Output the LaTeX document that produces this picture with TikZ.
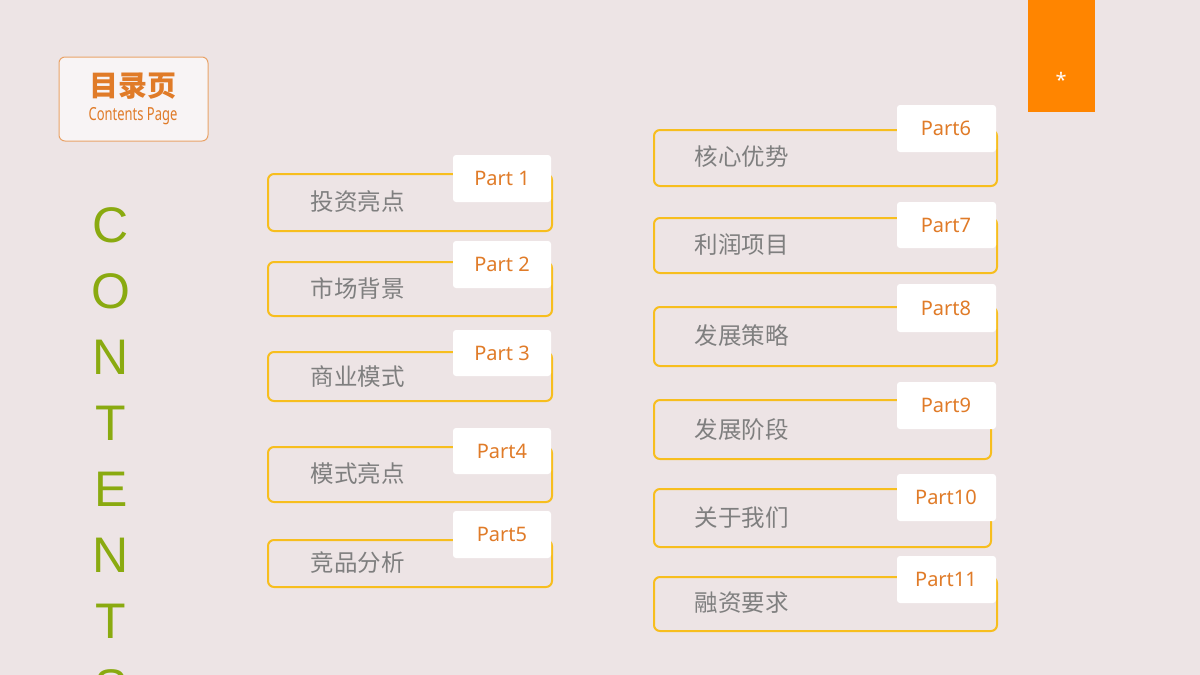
\documentclass[tikz,border=0pt]{standalone}
\usepackage{fontspec}
\setmainfont{Noto Sans}
\newfontfamily\cjk{Noto Sans CJK SC}
\newfontfamily\arl{Liberation Sans}
\definecolor{bg}{HTML}{EDE4E5}
\definecolor{yel}{HTML}{F7BE1E}
\definecolor{org}{HTML}{E07B28}
\definecolor{gr}{HTML}{7F7F7F}
\definecolor{grn}{HTML}{8AAA10}
\definecolor{ora}{HTML}{FF8500}
\begin{document}
\begin{tikzpicture}[x=1pt,y=-1pt,
 item/.style={draw=yel,line width=2pt,rounded corners=6pt},
 lab/.style={fill=white,rounded corners=3pt},
 labt/.style={text=org,font=\fontsize{20}{20}\selectfont},
 itt/.style={text=gr,anchor=west,font=\cjk\fontsize{23.5}{24}\selectfont},
 ct/.style={text=grn,font=\arl\fontsize{50}{50}\selectfont}]
\fill[bg] (0,0) rectangle (1200,675);
\useasboundingbox (0,0) rectangle (1200,675);
\fill[ora] (1028,0) rectangle (1095,112);
\node[text=white,font=\fontsize{20}{20}\selectfont] (star) at (1061,80) {*};
\draw[draw=org!70,fill=white!60!bg,rounded corners=6pt,line width=1pt] (59,57) rectangle (208,141);
\node[text=org,font=\cjk\bfseries\fontsize{29}{29}\selectfont] (tt) at (133,86) {目录页};
\node[text=org,font=\fontsize{18}{18}\selectfont,xscale=0.72] (ts) at (133,116) {Contents Page};
\foreach \l/\y [count=\i] in {C/225,O/291,N/357,T/423,E/489,N/555,T/621,S/687}
  \node[ct] (c\i) at (111,\y) {\l};
\foreach \n/\a/\b/\la/\lb/\ty/\t/\p in {
 1/174/231/155/202/202/投资亮点/Part 1,
 2/262/316/241/288/288/市场背景/Part 2,
 3/352/401/330/376/377/商业模式/Part 3,
 4/447/502/428/474/474/模式亮点/Part4,
 5/540/587/511/558/563/竞品分析/Part5}{
 \draw[item] (268,\a) rectangle (552,\b);
 \fill[lab] (453,\la) rectangle (551,\lb);
 \node[labt] (p\n) at (502,{(\la+\lb)/2}) {\p};
 \node[itt] (t\n) at (307,\ty) {\t};
}
\foreach \n/\a/\b/\r/\la/\lb/\ty/\t/\p in {
 6/130/186/997/105/152/157/核心优势/Part6,
 7/218/273/997/202/248/245/利润项目/Part7,
 8/307/366/997/284/332/336/发展策略/Part8,
 9/400/459/991/382/429/430/发展阶段/Part9,
 10/489/547/991/474/521/518/关于我们/Part10,
 11/577/631/997/556/603/603/融资要求/Part11}{
 \draw[item] (654,\a) rectangle (\r,\b);
 \fill[lab] (897,\la) rectangle (996,\lb);
 \node[labt] (p\n) at (946,{(\la+\lb)/2}) {\p};
 \node[itt] (t\n) at (691,\ty) {\t};
}
\end{tikzpicture}
\end{document}
